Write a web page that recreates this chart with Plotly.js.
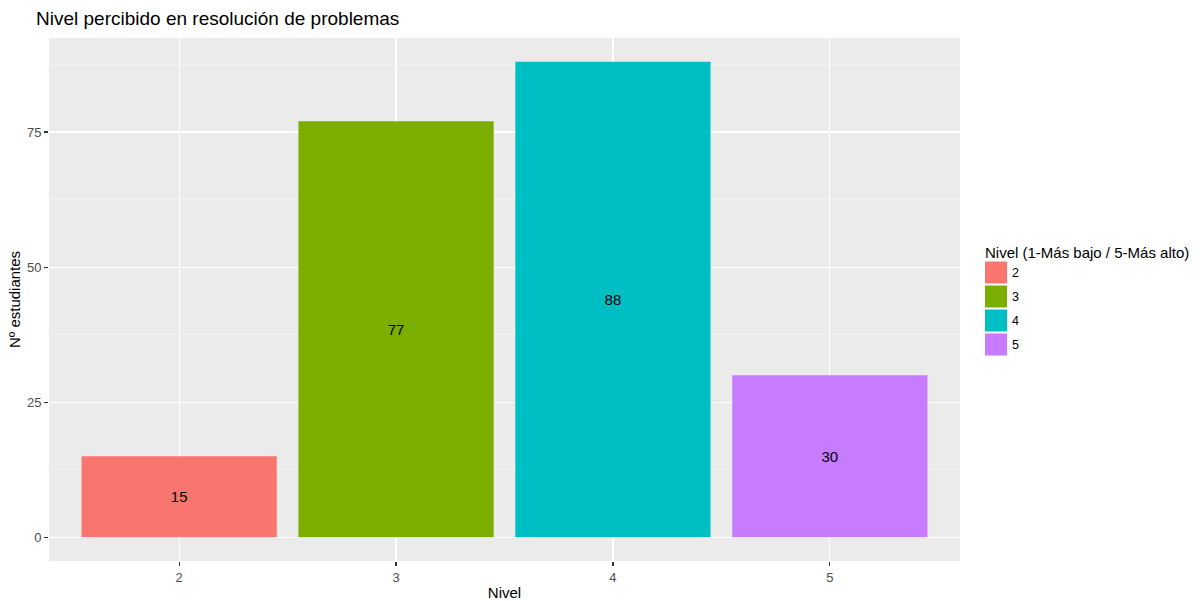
<!DOCTYPE html>
<html>
<head>
<meta charset="utf-8">
<script src="https://cdn.plot.ly/plotly-3.0.1.min.js"></script>
<style>html,body{margin:0;padding:0;background:#fff;}#chart{width:1200px;height:601px;}</style>
</head>
<body>
<div id="chart"></div>
<script>
const niveles = [2, 3, 4, 5];
const estudiantes = [15, 77, 88, 30];
const colores = ['#F8766D', '#7CAE00', '#00BFC4', '#C77CFF'];
const yTicks = [0, 25, 50, 75];
const legendTitle = 'Nivel (1-Más bajo / 5-Más alto)';

const font = 'Liberation Sans, Arial, Helvetica, sans-serif';

const L = 49, R = 960, T = 38, B = 561;
const W = 1200, H = 601;
const px = x => (x - L) / (R - L);
const py = y => (B - y) / (B - T);

const shapes = [];
const annotations = [];
annotations.push({
  xref: 'paper', yref: 'paper', x: px(983), y: py(252), xanchor: 'left', yanchor: 'middle',
  text: legendTitle, showarrow: false, font: {family: font, size: 15, color: '#000'}
});
niveles.forEach((n, i) => {
  const top = 261.5 + i * 24;
  shapes.push({
    type: 'rect', xref: 'paper', yref: 'paper',
    x0: px(985), x1: px(1007), y0: py(top + 22), y1: py(top),
    fillcolor: colores[i], line: {width: 0}
  });
  annotations.push({
    xref: 'paper', yref: 'paper', x: px(1010), y: py(top + 11), xanchor: 'left', yanchor: 'middle',
    text: String(n), showarrow: false, font: {family: font, size: 12.5, color: '#000'}
  });
});

const trace = {
  type: 'bar',
  x: niveles,
  y: estudiantes,
  width: 0.9,
  marker: {color: colores, line: {width: 0}},
  text: estudiantes.map(String),
  textposition: 'inside',
  insidetextanchor: 'middle',
  textangle: 0,
  textfont: {family: font, size: 15, color: '#000'},
  hoverinfo: 'x+y',
  showlegend: false
};

const layout = {
  width: W, height: H,
  margin: {l: L, r: W - R, t: T, b: H - B, pad: 0},
  paper_bgcolor: '#FFFFFF',
  plot_bgcolor: '#EBEBEB',
  showlegend: false,
  title: {
    text: 'Nivel percibido en resolución de problemas',
    font: {family: font, size: 19, color: '#000'},
    x: 36 / W, xanchor: 'left', xref: 'container',
    y: 1 - 18 / H, yanchor: 'middle', yref: 'container'
  },
  xaxis: {
    range: [1.4, 5.6],
    tickvals: niveles,
    ticktext: niveles.map(String),
    showgrid: true, gridcolor: '#FFFFFF', gridwidth: 1.1,
    zeroline: false, showline: false,
    ticks: 'outside', ticklen: 4, tickcolor: '#333333', tickwidth: 1.1,
    tickfont: {family: font, size: 13, color: '#4D4D4D'},
    title: {text: 'Nivel', font: {family: font, size: 15, color: '#000'}, standoff: 4},
    fixedrange: true
  },
  yaxis: {
    range: [-4.4, 92.4],
    tickvals: yTicks,
    ticktext: yTicks.map(String),
    showgrid: true, gridcolor: '#FFFFFF', gridwidth: 1.1,
    minor: {dtick: 12.5, tick0: 0, showgrid: true, gridcolor: '#F7F7F7', gridwidth: 0.6, ticks: ''},
    zeroline: false, showline: false,
    ticks: 'outside', ticklen: 4, tickcolor: '#333333', tickwidth: 1.1,
    tickfont: {family: font, size: 13, color: '#4D4D4D'},
    title: {text: 'Nº estudiantes', font: {family: font, size: 15, color: '#000'}, standoff: 2},
    fixedrange: true
  },
  shapes: shapes,
  annotations: annotations
};

Plotly.newPlot('chart', [trace], layout, {displayModeBar: false, staticPlot: true});
</script>
</body>
</html>
